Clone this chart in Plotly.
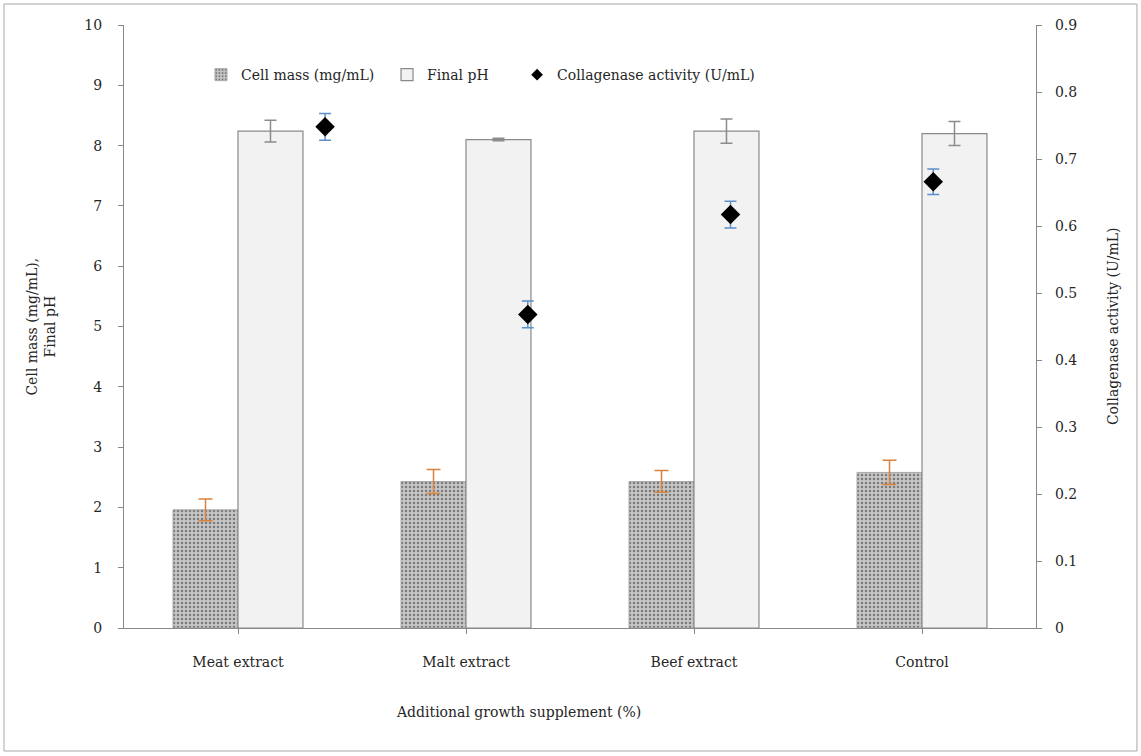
import plotly.graph_objects as go

categories = ["Meat extract", "Malt extract", "Beef extract", "Control"]
cell_mass = [1.96, 2.43, 2.43, 2.58]
cell_mass_err = [0.18, 0.2, 0.18, 0.2]
final_ph = [8.24, 8.10, 8.24, 8.20]
final_ph_err = [0.18, 0.02, 0.2, 0.2]
collagenase = [0.748, 0.468, 0.617, 0.666]
collagenase_err = [0.02, 0.02, 0.02, 0.019]

FONT = "DejaVu Serif"
FS = 14
TXT = "#262626"

fig = go.Figure()
fig.add_trace(go.Bar(
    x=categories, y=cell_mass, name="Cell mass (mg/mL)",
    marker=dict(color="#b9b9b9", line=dict(color="#a8a8a8", width=1),
                pattern=dict(shape=".", bgcolor="#c6c6c6", fgcolor="#7a7a7a",
                             size=4, solidity=0.3, fillmode="replace")),
    error_y=dict(type="data", array=cell_mass_err, color="#d9823b", thickness=1.5, width=7),
    legend="legend",
))
fig.add_trace(go.Bar(
    x=categories, y=final_ph, name="Final pH",
    marker=dict(color="#f2f2f2", line=dict(color="#8a8a8a", width=1.2)),
    error_y=dict(type="data", array=final_ph_err, color="#8c8c8c", thickness=1.5, width=6),
    legend="legend2",
))
fig.add_trace(go.Scatter(
    x=categories, y=collagenase, name="Collagenase activity (U/mL)",
    mode="markers", xaxis="x2", yaxis="y2", showlegend=False,
    marker=dict(symbol="diamond", size=15, color="#000000"),
    error_y=dict(type="data", array=collagenase_err, color="#5b8fc9", thickness=1.5, width=6),
))
# legend entry with a small diamond, as in the reference
fig.add_trace(go.Scatter(
    x=[None], y=[None], name="Collagenase activity (U/mL)",
    mode="markers", xaxis="x2", yaxis="y2",
    marker=dict(symbol="diamond", size=9, color="#000000"),
    legend="legend3",
))

axis_line = "#888888"
tf = dict(family=FONT, size=FS, color=TXT)
leg = dict(y=0.917, xanchor="left", yanchor="middle", orientation="h",
           bgcolor="rgba(0,0,0,0)", font=tf, itemwidth=30)
fig.update_layout(
    width=1141, height=756,
    margin=dict(l=124, r=105, t=25, b=128),
    paper_bgcolor="white", plot_bgcolor="white",
    font=tf,
    barmode="group", bargap=0.43, bargroupgap=0,
    xaxis=dict(type="category", showline=True, linecolor=axis_line, linewidth=1.2,
               ticks="outside", ticklen=5, tickcolor=axis_line, showgrid=False,
               ticklabelstandoff=16, tickfont=tf),
    xaxis2=dict(type="category", overlaying="x", range=[-0.992, 3.507], visible=False),
    yaxis=dict(range=[0, 10], dtick=1, showline=True, linecolor=axis_line, linewidth=1.2,
               ticks="outside", ticklen=5, tickcolor=axis_line, showgrid=False, zeroline=False,
               ticklabelstandoff=13, tickfont=tf),
    yaxis2=dict(range=[0, 0.9], dtick=0.1, overlaying="y", side="right", showline=True,
                linecolor=axis_line, linewidth=1.2, ticks="outside", ticklen=5,
                tickcolor=axis_line, showgrid=False, zeroline=False, ticklabelstandoff=10,
                tickfont=tf),
    legend=dict(leg, x=0.0844),
    legend2=dict(leg, x=0.2884),
    legend3=dict(leg, x=0.431),
    showlegend=True,
)

fig.add_annotation(text="Cell mass (mg/mL),<br>Final pH", xref="paper", yref="paper",
                   x=-0.092, y=0.5, textangle=-90, showarrow=False,
                   font=tf, xanchor="center", yanchor="middle")
fig.add_annotation(text="Collagenase activity (U/mL)", xref="paper", yref="paper",
                   x=1.084, y=0.5, textangle=-90, showarrow=False,
                   font=tf, xanchor="center", yanchor="middle")
fig.add_annotation(text="Additional growth supplement (%)", xref="paper", yref="paper",
                   x=0.433, y=-0.139, showarrow=False,
                   font=tf, xanchor="center", yanchor="middle")

fig.add_shape(type="rect", xref="paper", yref="paper", x0=-0.1316, x1=1.1107, y0=-0.204, y1=1.0348,
              line=dict(color="#a6a6a6", width=1), fillcolor="rgba(0,0,0,0)", layer="below")

fig.write_html("out.html")
